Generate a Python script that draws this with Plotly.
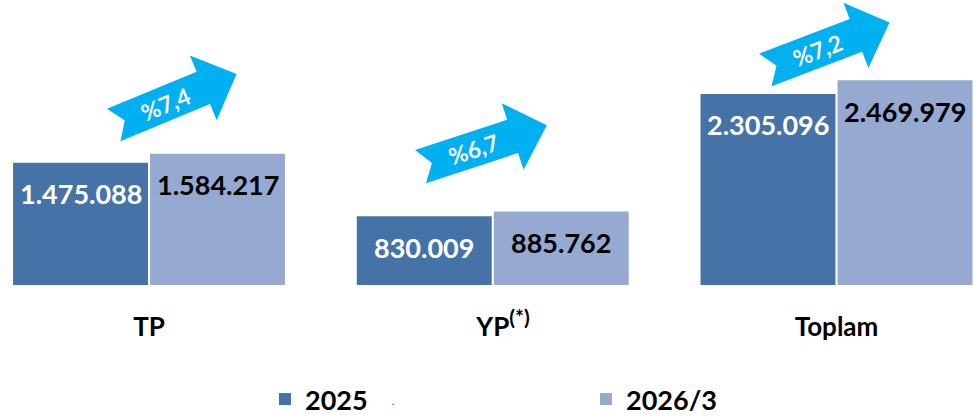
import math
import plotly.graph_objects as go

# data
categories = ["TP", "YP", "Toplam"]
category_notes = ["", "(*)", ""]
series_names = ["2025", "2026/3"]
values_2025 = [1475088, 830009, 2305096]
values_2026 = [1584217, 885762, 2469979]

W, H = 974, 417
PLOT_H = 285  # plot area height in px (margins t=0, l=0, r=0)

FONT = "Lato, 'Open Sans', sans-serif"
C2025 = "#4673A7"
C2026 = "#95A9D1"
ARROW = "#00B0F0"


def fmt(v):
    return f"{v:,}".replace(",", ".")


def tick_label(cat, note):
    if not note:
        return cat
    # invisible copy of the note on the left keeps the main label centred
    sup = f"<sup><span style='font-size:21px'>{note}</span></sup>"
    return f"<span style='color:rgba(0,0,0,0)'>{sup}</span>{cat}{sup}"


def to_paper(px, py):
    return px / W, (PLOT_H - py) / PLOT_H


def arrow_path(cx, cy, ang, L=133, h=17.5, hw=35, hl=36, notch=12):
    a = math.radians(ang)
    pts = [(0, h), (L - hl, h), (L - hl, hw), (L, 0), (L - hl, -hw),
           (L - hl, -h), (0, -h), (notch, 0)]
    out = []
    for u, v in pts:
        px = cx + u * math.cos(a) - v * math.sin(a)
        py = cy - u * math.sin(a) - v * math.cos(a)
        x, y = to_paper(px, py)
        out.append(f"{x:.5f},{y:.5f}")
    return "M" + " L".join(out) + " Z"


fig = go.Figure()
fig.add_trace(go.Bar(x=categories, y=values_2025, name=series_names[0],
                     marker=dict(color=C2025, line=dict(width=0))))
fig.add_trace(go.Bar(x=categories, y=values_2026, name=series_names[1],
                     marker=dict(color=C2026, line=dict(width=0))))

# value labels near the top of each bar
for cat, v1, v2 in zip(categories, values_2025, values_2026):
    fig.add_annotation(x=cat, y=v1, text=fmt(v1), showarrow=False, xshift=-68.5, yshift=-31,
                       font=dict(family=FONT, size=27, color="white", weight="bold"))
    fig.add_annotation(x=cat, y=v2, text=fmt(v2), showarrow=False, xshift=68.5, yshift=-31,
                       font=dict(family=FONT, size=27, color="black", weight="bold"))

# growth arrows (tail centre in px, angle)
arrow_pos = [(113.7, 125, 22.5), (420.5, 166.7, 18.2), (765.3, 70, 20.9)]
for (cx, cy, ang), v1, v2 in zip(arrow_pos, values_2025, values_2026):
    fig.add_shape(type="path", path=arrow_path(cx, cy, ang), xref="paper", yref="paper",
                  fillcolor=ARROW, line=dict(width=0))
    pct = f"%{(v2 / v1 - 1) * 100:.1f}".replace(".", ",")
    a = math.radians(ang)
    tx, ty = to_paper(cx + 56 * math.cos(a), cy - 56 * math.sin(a))
    fig.add_annotation(x=tx, y=ty, xref="paper", yref="paper", text=pct, showarrow=False,
                       xanchor="center", yanchor="middle", textangle=-ang,
                       font=dict(family=FONT, size=23, color="#F4F4F4", weight="bold"))

# stray dot between the legend entries
dx, dy = to_paper(393, 401)
fig.add_annotation(xref="paper", yref="paper", x=dx, y=dy, text=".", xanchor="center",
                   yanchor="middle", showarrow=False,
                   font=dict(family=FONT, size=9, color="black"))

fig.update_layout(
    width=W, height=H,
    margin=dict(l=0, r=0, t=0, b=H - PLOT_H, autoexpand=False),
    barmode="group", bargap=0.203, bargroupgap=0.015,
    plot_bgcolor="white", paper_bgcolor="white",
    xaxis=dict(range=[-0.4335, 2.4], showgrid=False, zeroline=False, showline=False,
               ticks="", ticklabelstandoff=24, automargin=False,
               tickmode="array", tickvals=categories,
               ticktext=[tick_label(c, n) for c, n in zip(categories, category_notes)],
               tickfont=dict(family=FONT, size=26, color="black", weight="bold")),
    yaxis=dict(range=[0, 3437400], visible=False),
    legend=dict(orientation="h", x=265 / W, xanchor="left",
                yref="container", y=1 - 399.5 / H, yanchor="middle",
                entrywidth=276, entrywidthmode="pixels",
                font=dict(family=FONT, size=27, color="black", weight="bold")),
    showlegend=True,
)

# drop the default 8px page margin so the figure sits at the window origin
fig.write_html("out.html", config={"displayModeBar": False},
               post_script="document.body.style.margin='0';")
